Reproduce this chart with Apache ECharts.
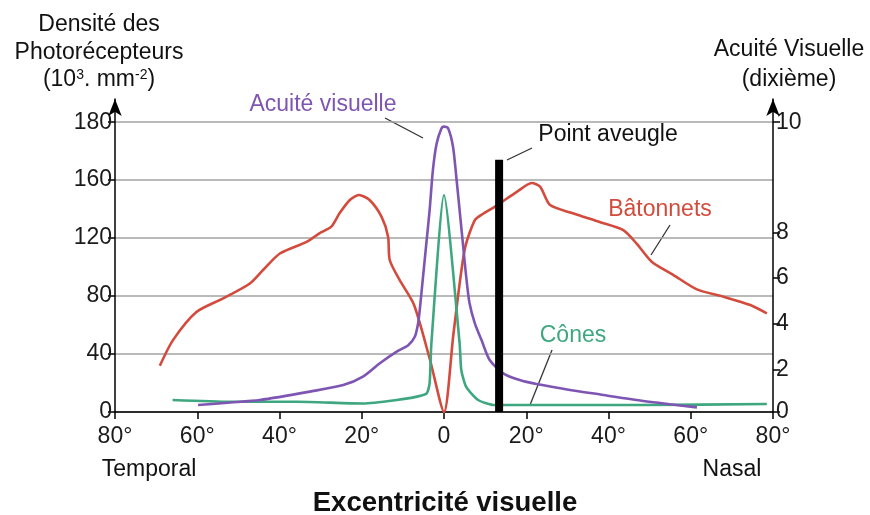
<!DOCTYPE html>
<html><head><meta charset="utf-8">
<script src="https://cdn.jsdelivr.net/npm/echarts@6/dist/echarts.min.js"></script>
<style>html,body{margin:0;padding:0;background:#fff}#c{width:870px;height:515px}</style>
</head><body><div id="c"></div>
<script>
// ---- axis definitions ----
const xTickValues = [-80, -60, -40, -20, 0, 20, 40, 60, 80];
const xTickLabels = ['80°', '60°', '40°', '20°', '0', '20°', '40°', '60°', '80°'];
const densityTickValues = [0, 40, 80, 120, 160, 200];
const densityTickLabels = ['0', '40', '80', '120', '160', '180'];
const acuityTickValues = [0, 2, 4, 6, 8, 10];
const acuityTickPositions = [0, 29, 61, 92.5, 124, 200]; // place of each acuity tick on the (shared) vertical scale

// ---- data: [eccentricity (deg, temporal < 0 < nasal), value] ----
const rods = [[-69.1,31.9],[-65.9,49.6],[-60.2,69],[-53.7,78.4],[-47.2,88.7],[-44,98],[-39.9,109.4],[-33.4,117.4],[-30.3,123.3],[-27.4,127.9],[-25.4,137.1],[-22.9,146.3],[-20.7,149.8],[-18.1,146.3],[-15.2,134.8],[-13.6,121],[-13.2,104.9],[-10.8,91.1],[-7.3,74],[-3.4,35.9],[0,0],[2.3,54],[5,111.7],[7.5,132.4],[9.6,137],[12.3,141.6],[17.7,151.9],[21.3,158],[23.4,155.4],[25.8,142.8],[31.5,137],[38,131],[43.6,125.5],[46.9,116],[50.5,103.7],[55.8,94.5],[61.5,84.6],[68,79.5],[74.5,73.8],[78.5,68]];
const cones = [[-66,8.3],[-52,7.1],[-35.8,7.1],[-19.6,5.9],[-11.5,8.3],[-6.6,10.6],[-4.2,12.9],[-3.5,19.8],[-3.07,47.4],[0,149.7],[3.8,47.4],[4.2,29],[5.4,17.4],[8.3,8.3],[12.3,4.8],[23.4,4.8],[47.7,4.8],[78.5,5.5]];
const acuity = [[-59.8,0.33],[-52,0.45],[-44.8,0.57],[-32.6,0.97],[-24.5,1.28],[-19.6,1.7],[-15.6,2.29],[-11.5,2.79],[-8.7,3.07],[-7.1,3.43],[-6.3,4.01],[-5.9,4.59],[-5.1,6.05],[-4.3,7.5],[-3.5,8.4],[-2.7,9.13],[-1.8,9.61],[-0.6,9.89],[0,9.92],[1.0,9.89],[2.2,9.55],[3.0,9.0],[3.8,8.4],[4.6,7.5],[5.4,6.05],[6.2,4.9],[7.5,4.01],[9.1,3.3],[11.1,2.43],[14.4,1.84],[18.4,1.52],[22.5,1.33],[30.6,1.05],[38.8,0.81],[46.8,0.57],[54.9,0.37],[61.5,0.22]];
const blindSpot = [[13.4,0],[13.4,174]];

// acuity (dixième) -> position on the shared vertical scale, through the axis ticks
function acuityToScale(a) {
  for (let i = 1; i < acuityTickValues.length; i++) {
    if (a <= acuityTickValues[i] || i === acuityTickValues.length - 1) {
      const a0 = acuityTickValues[i-1], a1 = acuityTickValues[i];
      const p0 = acuityTickPositions[i-1], p1 = acuityTickPositions[i];
      return p0 + (a - a0) / (a1 - a0) * (p1 - p0);
    }
  }
}

const FONT = 'Liberation Sans, Arial, Helvetica, sans-serif';
const RED = '#d24b3c', PURPLE = '#7f55b3', GREEN = '#3ea77f';

const chart = echarts.init(document.getElementById('c'), null, {renderer: 'canvas'});
const axisLineStyle = {color: '#000', width: 1.5};
const option = {
  animation: false,
  backgroundColor: '#fff',
  grid: {left: 115, right: 97, top: 99, bottom: 103, containLabel: false},
  xAxis: {
    type: 'value', min: -80, max: 80, interval: 20,
    axisLine: {show: true, onZero: false, lineStyle: axisLineStyle},
    axisTick: {show: true, length: 7, lineStyle: axisLineStyle},
    axisLabel: {fontSize: 23, fontFamily: FONT, color: '#1a1a1a', margin: 13,
      formatter: v => xTickLabels[xTickValues.indexOf(v)]},
    splitLine: {show: false}
  },
  yAxis: [{
    type: 'value', min: 0, max: 216, position: 'left',
    axisLine: {show: true, onZero: false, lineStyle: axisLineStyle, symbol: ['none', 'arrow'], symbolSize: [10, 17]},
    axisTick: {show: true, length: 7, lineStyle: axisLineStyle, customValues: densityTickValues},
    axisLabel: {fontSize: 23, fontFamily: FONT, color: '#1a1a1a', margin: 3, customValues: densityTickValues,
      formatter: v => densityTickLabels[densityTickValues.indexOf(v)]},
    splitLine: {show: true, lineStyle: {color: '#a3a3a3', width: 1.5}}
  }, {
    type: 'value', min: 0, max: 216, position: 'right',
    axisLine: {show: true, onZero: false, lineStyle: axisLineStyle, symbol: ['none', 'arrow'], symbolSize: [10, 17]},
    axisTick: {show: true, length: 7, lineStyle: axisLineStyle, customValues: acuityTickPositions},
    axisLabel: {fontSize: 23, fontFamily: FONT, color: '#1a1a1a', margin: 3, customValues: acuityTickPositions,
      formatter: v => String(acuityTickValues[acuityTickPositions.indexOf(v)])},
    splitLine: {show: false}
  }],
  series: [
    {name: 'Bâtonnets', type: 'line', data: rods, showSymbol: false, smooth: 0.25,
     lineStyle: {color: RED, width: 2.6}, z: 3},
    {name: 'Cônes', type: 'line', data: cones, showSymbol: false, smooth: 0.2,
     lineStyle: {color: GREEN, width: 2.6}, z: 3},
    {name: 'Acuité visuelle', type: 'line', yAxisIndex: 1, data: acuity.map(p => [p[0], acuityToScale(p[1])]),
     showSymbol: false, smooth: 0.25, lineStyle: {color: PURPLE, width: 2.6}, z: 4},
    {name: 'Point aveugle', type: 'line', data: blindSpot, showSymbol: false,
     lineStyle: {color: '#000', width: 8, cap: 'butt'}, z: 5}
  ],
  graphic: [
    {type: 'text', x: 99, y: 25, style: {text: 'Densité des', font: '23px ' + FONT, fill: '#111', align: 'center', verticalAlign: 'middle'}},
    {type: 'text', x: 99, y: 53, style: {text: 'Photorécepteurs', font: '23px ' + FONT, fill: '#111', align: 'center', verticalAlign: 'middle'}},
    {type: 'text', x: 99, y: 80, style: {text: '(10{sup|3}. mm{sup|-2})', font: '23px ' + FONT, fill: '#111', align: 'center', verticalAlign: 'middle',
      rich: {sup: {fontSize: 14, fontFamily: FONT, fill: '#111', verticalAlign: 'top', lineHeight: 14, padding: [0, 0, 14, 0]}}}},
    {type: 'text', x: 789, y: 50, style: {text: 'Acuité Visuelle', font: '23px ' + FONT, fill: '#111', align: 'center', verticalAlign: 'middle'}},
    {type: 'text', x: 789, y: 80, style: {text: '(dixième)', font: '23px ' + FONT, fill: '#111', align: 'center', verticalAlign: 'middle'}},
    {type: 'text', x: 149, y: 470, style: {text: 'Temporal', font: '23px ' + FONT, fill: '#111', align: 'center', verticalAlign: 'middle'}},
    {type: 'text', x: 732, y: 470, style: {text: 'Nasal', font: '23px ' + FONT, fill: '#111', align: 'center', verticalAlign: 'middle'}},
    {type: 'text', x: 445, y: 503, style: {text: 'Excentricité visuelle', font: 'bold 27.5px ' + FONT, fill: '#111', align: 'center', verticalAlign: 'middle'}},
    // annotations
    {type: 'text', x: 323, y: 105, style: {text: 'Acuité visuelle', font: '23px ' + FONT, fill: PURPLE, align: 'center', verticalAlign: 'middle'}},
    {type: 'line', shape: {x1: 385, y1: 118, x2: 423, y2: 138}, style: {stroke: '#333', lineWidth: 1.3}},
    {type: 'text', x: 608, y: 135, style: {text: 'Point aveugle', font: '23px ' + FONT, fill: '#111', align: 'center', verticalAlign: 'middle'}},
    {type: 'line', shape: {x1: 507, y1: 160, x2: 532, y2: 148}, style: {stroke: '#333', lineWidth: 1.3}},
    {type: 'text', x: 660, y: 210, style: {text: 'Bâtonnets', font: '23px ' + FONT, fill: RED, align: 'center', verticalAlign: 'middle'}},
    {type: 'line', shape: {x1: 670, y1: 225, x2: 651, y2: 255}, style: {stroke: '#333', lineWidth: 1.3}},
    {type: 'text', x: 573, y: 336, style: {text: 'Cônes', font: '23px ' + FONT, fill: GREEN, align: 'center', verticalAlign: 'middle'}},
    {type: 'line', shape: {x1: 552, y1: 350, x2: 530, y2: 405}, style: {stroke: '#333', lineWidth: 1.3}}
  ]
};
chart.setOption(option);
</script></body></html>
